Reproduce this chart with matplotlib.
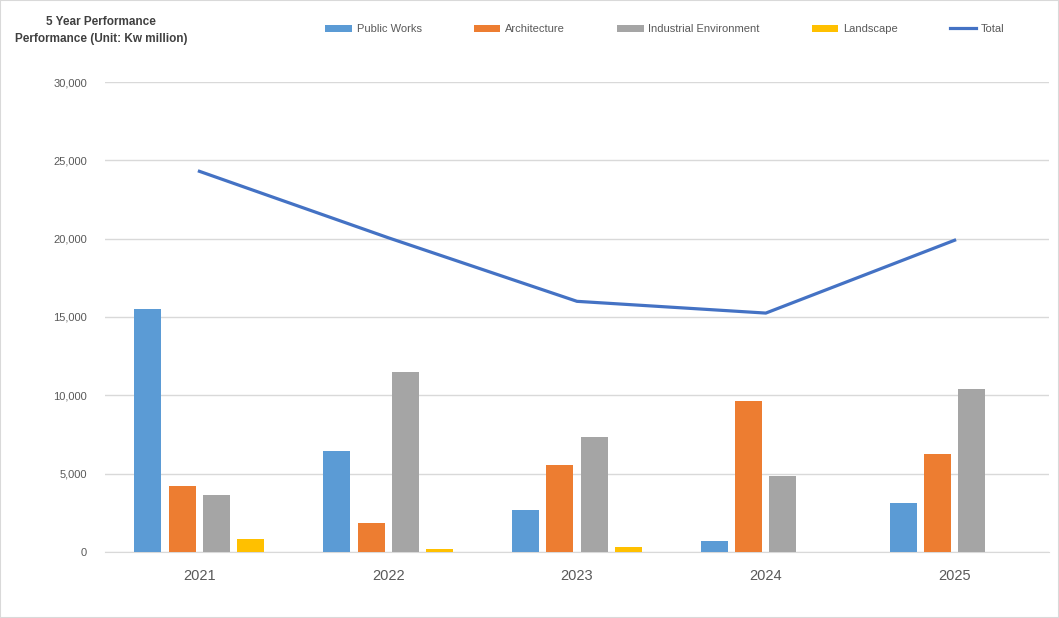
import matplotlib.pyplot as plt
import numpy as np
from matplotlib.patches import Rectangle

plt.rcParams['font.family'] = ['Liberation Sans', 'DejaVu Sans']

# 数据
years = ['2021', '2022', '2023', '2024', '2025']
public_works = [15530, 6470, 2700, 720, 3150]
architecture = [4230, 1870, 5570, 9660, 6280]
industrial = [3660, 11510, 7360, 4870, 10430]
landscape = [850, 210, 340, 0, 0]
total = [24300, 20060, 16000, 15250, 19900]

series_names = ['Public Works', 'Architecture', 'Industrial Environment', 'Landscape']
colors = ['#5B9BD5', '#ED7D31', '#A5A5A5', '#FFC000']
line_color = '#4472C4'

fig = plt.figure(figsize=(10.59, 6.18), dpi=100)
ax = fig.add_axes((105 / 1059, 1 - 552 / 618, 944 / 1059, 470 / 618))

x = np.arange(len(years))
step = 0.182
width = 0.143
for i, vals in enumerate([public_works, architecture, industrial, landscape]):
    ax.bar(x + (i - 1.5) * step, vals, width=width, color=colors[i],
           label=series_names[i], zorder=3)
ax.plot(x, total, color=line_color, linewidth=2.3, label='Total', zorder=4)

ax.set_xlim(-0.5, len(years) - 0.5)
ax.set_ylim(0, 30000)
ax.set_yticks(range(0, 30001, 5000))
ax.set_yticklabels([f'{v:,}' for v in range(0, 30001, 5000)], fontsize=8, color='#595959')
ax.set_xticks(x)
ax.set_xticklabels(years, fontsize=10.5, color='#595959')
ax.tick_params(axis='both', length=0)
ax.tick_params(axis='x', pad=12)
ax.tick_params(axis='y', pad=13)
ax.grid(axis='y', color='#D9D9D9', linewidth=1, zorder=0)
for s in ['top', 'right', 'left']:
    ax.spines[s].set_visible(False)
ax.spines['bottom'].set_color('#D9D9D9')

# 标题
fig.text(101 / 1059, 1 - 22 / 618, '5 Year Performance', ha='center', va='center',
         fontsize=8.5, fontweight='bold', color='#404040')
fig.text(101 / 1059, 1 - 39 / 618, 'Performance (Unit: Kw million)', ha='center', va='center',
         fontsize=8.5, fontweight='bold', color='#404040')

# 图例
handles, labels = ax.get_legend_handles_labels()
order = [1, 2, 3, 4, 0]
leg = fig.legend([handles[i] for i in order], [labels[i] for i in order],
                 loc='center', bbox_to_anchor=(665 / 1059, 1 - 29 / 618), ncol=5,
                 frameon=False, fontsize=8, handlelength=2.4, handleheight=0.6,
                 handletextpad=0.4, columnspacing=4.7, labelcolor='#595959')

# 外框
fig.patches.append(Rectangle((0, 0), 1, 1, transform=fig.transFigure, fill=False,
                             edgecolor='#D9D9D9', linewidth=1.5))

fig.savefig('out.png', dpi=100)
